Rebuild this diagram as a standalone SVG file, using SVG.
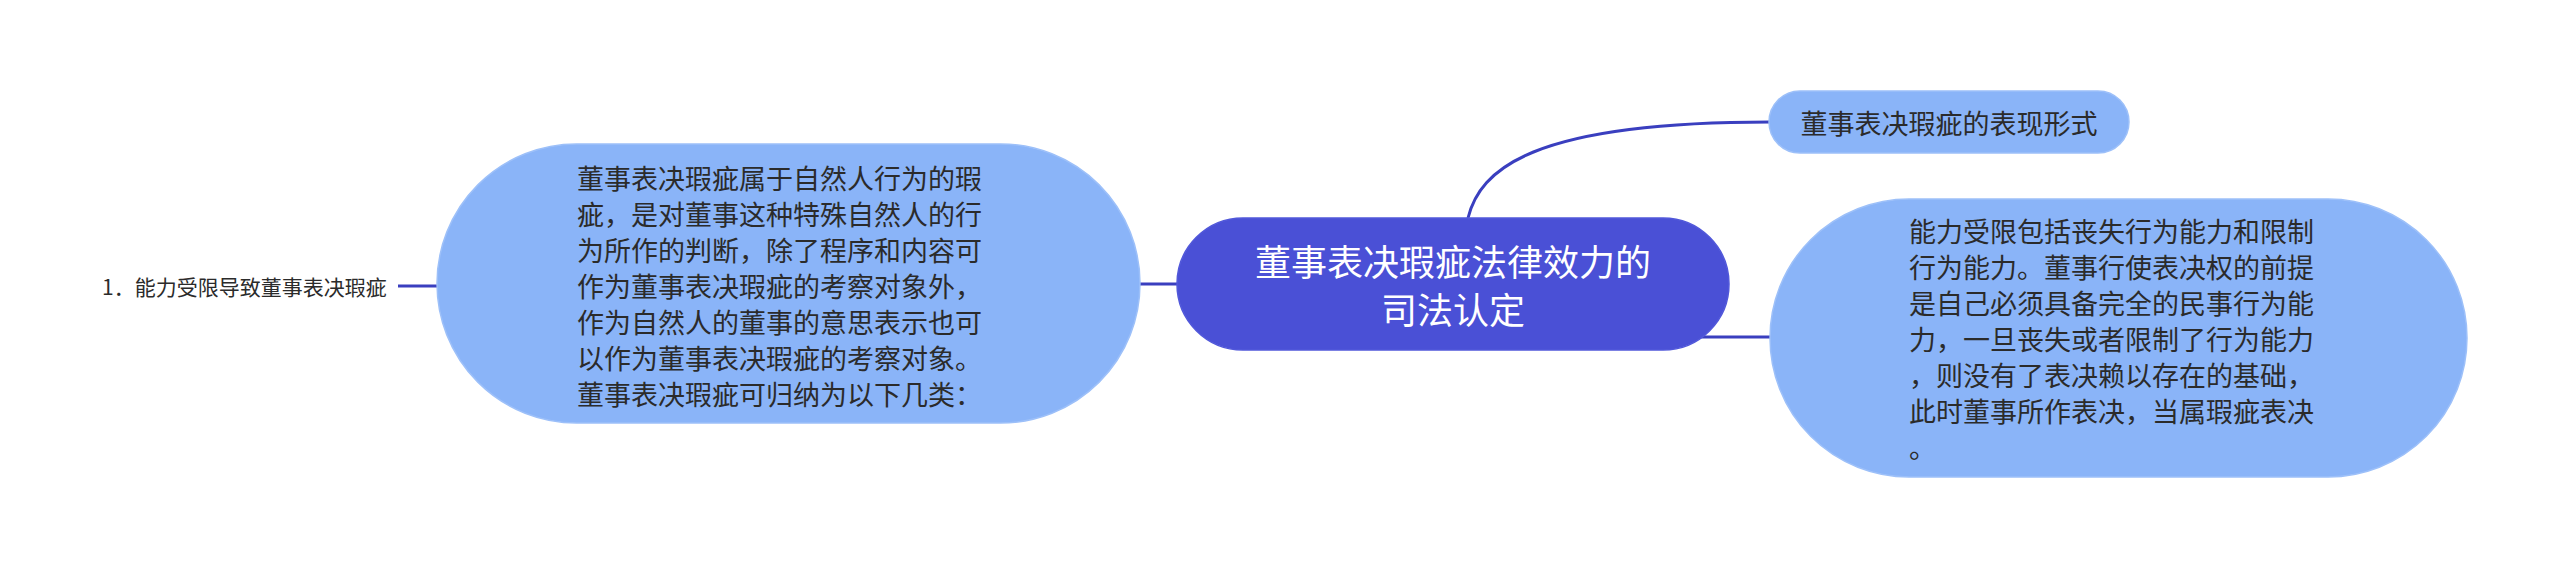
<svg xmlns="http://www.w3.org/2000/svg" width="2560" height="569" viewBox="0 0 2560 569">
<style>
text{font-family:"Noto Sans CJK SC","Noto Sans",sans-serif;dominant-baseline:central}
.lb{fill:#8ab4f8;stroke:#9dc0f9;stroke-width:1.5}
.db{fill:#4a50d6;stroke:#5158da;stroke-width:1.5}
.t27{font-size:27px;fill:#2b2b2b}
.t21{font-size:21px;fill:#2b2b2b}
.tw{font-size:36px;fill:#ffffff;text-anchor:middle}
.edge{fill:none;stroke:#3a3fbf;stroke-width:3}
</style>
<rect width="2560" height="569" fill="#ffffff"/>
<g id="connectors">
<path class="edge" d="M1468,218 C1480,170 1530,122 1770,122"/>
<path class="edge" d="M1696,337 L1772,337"/>
<path class="edge" d="M1140,284 L1180,284"/>
<path class="edge" d="M398,286 L438,286"/>
</g>
<g id="root">
<rect class="db" x="1177" y="218" width="552" height="132" rx="66" ry="66"/>
<text class="tw" x="1453" y="260">董事表决瑕疵法律效力的</text>
<text class="tw" x="1453" y="308">司法认定</text>
</g>
<g id="node-forms">
<rect class="lb" x="1769" y="91" width="360" height="62" rx="31" ry="31"/>
<text class="t27" x="1949" y="122" text-anchor="middle">董事表决瑕疵的表现形式</text>
</g>
<g id="node-capacity">
<rect class="lb" x="1770" y="199" width="697" height="278" rx="139" ry="139"/>
<text class="t27" x="1909" y="230">能力受限包括丧失行为能力和限制</text>
<text class="t27" x="1909" y="266">行为能力。董事行使表决权的前提</text>
<text class="t27" x="1909" y="302">是自己必须具备完全的民事行为能</text>
<text class="t27" x="1909" y="338">力，一旦丧失或者限制了行为能力</text>
<text class="t27" x="1909" y="374">，则没有了表决赖以存在的基础，</text>
<text class="t27" x="1909" y="410">此时董事所作表决，当属瑕疵表决</text>
<text class="t27" x="1909" y="446">。</text>
</g>
<g id="node-natural">
<rect class="lb" x="437" y="144" width="703" height="279" rx="139.5" ry="139.5"/>
<text class="t27" x="577" y="177">董事表决瑕疵属于自然人行为的瑕</text>
<text class="t27" x="577" y="213">疵，是对董事这种特殊自然人的行</text>
<text class="t27" x="577" y="249">为所作的判断，除了程序和内容可</text>
<text class="t27" x="577" y="285">作为董事表决瑕疵的考察对象外，</text>
<text class="t27" x="577" y="321">作为自然人的董事的意思表示也可</text>
<text class="t27" x="577" y="357">以作为董事表决瑕疵的考察对象。</text>
<text class="t27" x="577" y="393">董事表决瑕疵可归纳为以下几类：</text>
</g>
<g id="node-label">
<text class="t21" x="102" y="286">1．能力受限导致董事表决瑕疵</text>
</g>
</svg>
